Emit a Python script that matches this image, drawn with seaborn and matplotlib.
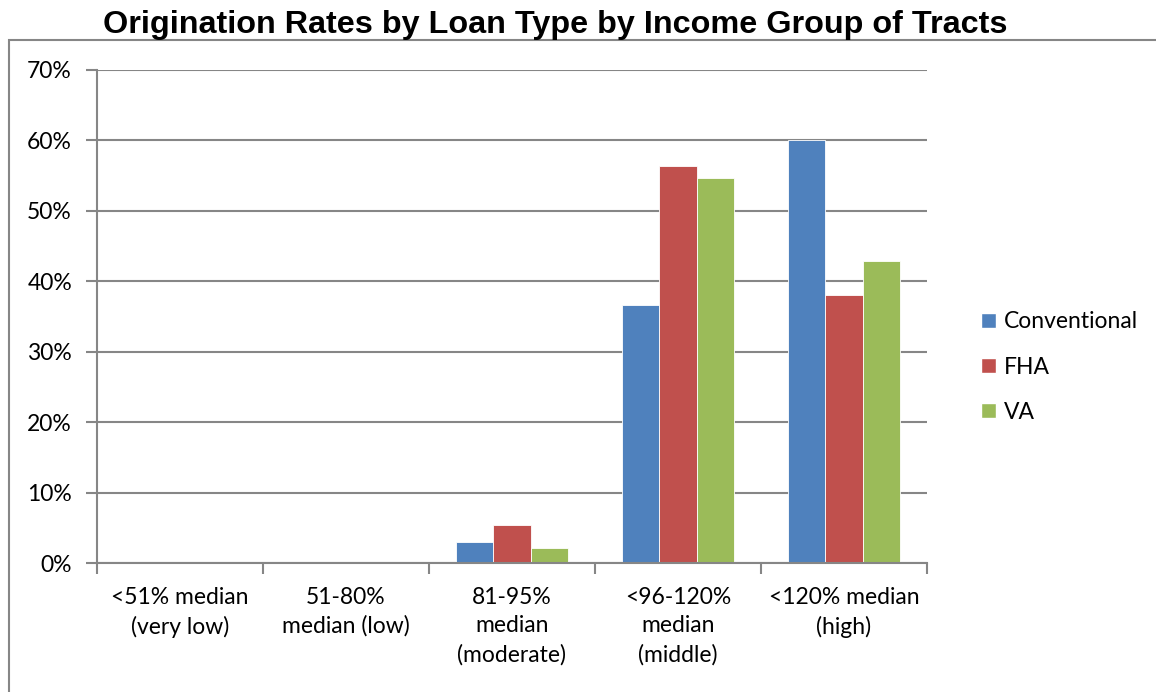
import pandas as pd
import seaborn as sns
import matplotlib.pyplot as plt
from matplotlib.patches import Rectangle, Patch
from matplotlib.ticker import PercentFormatter

# chart values (percent of applications originated)
income_groups = ["<51% median\n(very low)", "51-80%\nmedian (low)", "81-95%\nmedian\n(moderate)",
                 "<96-120%\nmedian\n(middle)", "<120% median\n(high)"]
loan_types = ["Conventional", "FHA", "VA"]
conventional = [0.0, 0.0, 3.0, 36.7, 60.0]
fha = [0.0, 0.0, 5.4, 56.4, 38.0]
va = [0.0, 0.0, 2.1, 54.7, 42.9]
colors = ["#4F81BD", "#C0504D", "#9BBB59"]

rows = []
for loan, vals in zip(loan_types, [conventional, fha, va]):
    for grp, v in zip(income_groups, vals):
        rows.append({"group": grp, "loan": loan, "rate": v})
df = pd.DataFrame(rows)

sns.set_style("white")
plt.rcParams["font.family"] = ["Lato", "DejaVu Sans"]
plt.rcParams["text.color"] = "black"
plt.rcParams["xtick.labelcolor"] = "black"
plt.rcParams["ytick.labelcolor"] = "black"

fig = plt.figure(figsize=(11.56, 6.92), dpi=100)
ax = fig.add_axes([97 / 1156, 1 - 563 / 692, 830 / 1156, 493 / 692])

sns.barplot(data=df, x="group", y="rate", hue="loan", palette=colors, width=0.67,
            saturation=1, edgecolor="white", linewidth=0.6, ax=ax, legend=False)

grid_c = "#868686"
ax.set_ylim(0, 70)
ax.set_xlim(-0.5, 4.5)
ax.set_yticks(range(0, 71, 10))
ax.yaxis.set_major_formatter(PercentFormatter(decimals=0))
ax.yaxis.grid(True, color=grid_c, linewidth=1.5)
ax.set_axisbelow(True)
for s in ["top", "right"]:
    ax.spines[s].set_visible(False)
for s in ["left", "bottom"]:
    ax.spines[s].set_color(grid_c)
    ax.spines[s].set_linewidth(1.5)

ax.tick_params(axis="y", length=8, width=1.5, color=grid_c, labelsize=16.5, pad=10, left=True)
ax.set_xticks(range(5))
ax.set_xticklabels(income_groups, linespacing=1.45)
ax.tick_params(axis="x", which="major", length=0, labelsize=16.5, pad=17)
ax.set_xticks([i - 0.5 for i in range(6)], minor=True)
ax.tick_params(axis="x", which="minor", length=8, width=1.5, color=grid_c, bottom=True)
ax.set_xlabel("")
ax.set_ylabel("")

handles = [Patch(facecolor=c, label=l) for c, l in zip(colors, loan_types)]
fig.legend(handles=handles, loc="center left", bbox_to_anchor=(960 / 1156, 1 - 367 / 692),
           frameon=False, fontsize=16.5, handlelength=0.65, handleheight=0.65,
           handletextpad=0.35, labelspacing=1.05)

fig.text(555 / 1156, 1 - 25 / 692, "Origination Rates by Loan Type by Income Group of Tracts",
         ha="center", va="center", fontsize=23.3, fontweight="bold",
         family=["Liberation Sans", "DejaVu Sans"])

fig.patches.append(Rectangle((9 / 1156, -0.1), 1.2, 1 - 40 / 692 + 0.1, transform=fig.transFigure,
                             fill=False, edgecolor=grid_c, linewidth=1.5))

fig.savefig("out.png", dpi=100)
